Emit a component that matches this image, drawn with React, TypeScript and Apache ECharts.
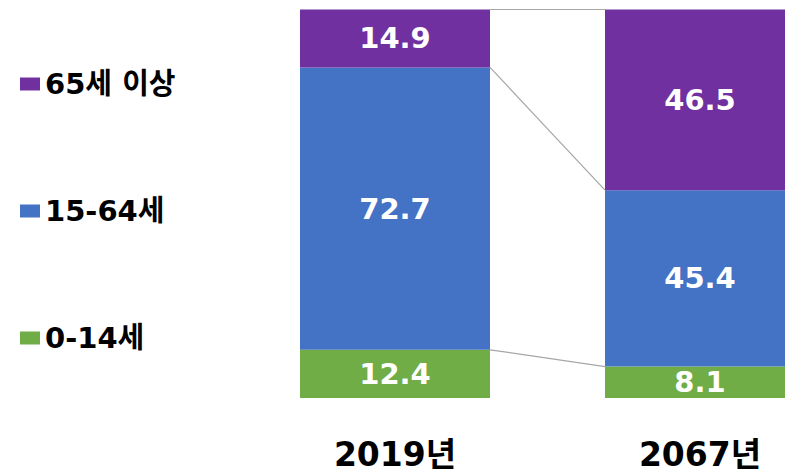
import React, { useEffect, useRef } from "react";
import * as echarts from "echarts";

const categories = ["2019년", "2067년"];
const age0to14 = [12.4, 8.1];
const age15to64 = [72.7, 45.4];
const age65plus = [14.9, 46.5];
const legendNames = ["65세 이상", "15-64세", "0-14세"];

const FONT = "'DejaVu Sans', 'Noto Sans CJK KR', sans-serif";
const BAR_RATIO = 0.623;

export default function App() {
  const ref = useRef<HTMLDivElement>(null);
  useEffect(() => {
    if (!ref.current) return;
    const chart = echarts.init(ref.current, undefined, { renderer: "svg" });
    const lvl1 = age0to14;
    const lvl2 = age0to14.map((v, i) => v + age15to64[i]);
    const lvl3 = lvl2.map((v, i) => v + age65plus[i]);
    const connectors = [
      [0, lvl1[0], lvl1[1]],
      [0, lvl2[0], lvl2[1]],
      [0, lvl3[0], lvl3[1]],
    ];
    const barLabel = {
      show: true,
      position: "inside",
      color: "#ffffff",
      fontSize: 29,
      fontWeight: "bold",
      fontFamily: FONT,
      formatter: (p: any) => Number(p.value).toFixed(1),
    };
    const mk = (name: string, data: number[], color: string) => ({
      name,
      type: "bar",
      stack: "total",
      data,
      barWidth: BAR_RATIO * 100 + "%",
      itemStyle: { color },
      label: barLabel,
    });
    chart.setOption({
      animation: false,
      grid: {
        left: 242.5,
        width: 610,
        top: 9.5,
        bottom: 77,
        containLabel: false,
        outerBoundsMode: "none",
      },
      legend: {
        orient: "vertical",
        left: 15,
        top: 64,
        data: legendNames,
        itemWidth: 20,
        itemHeight: 13,
        itemGap: 97,
        icon: "rect",
        textStyle: {
          fontSize: 29,
          fontWeight: "bold",
          color: "#000000",
          fontFamily: FONT,
          lineHeight: 30,
        },
      },
      xAxis: {
        type: "category",
        data: categories,
        axisLine: { show: false },
        axisTick: { show: false },
        axisLabel: {
          margin: 40,
          fontSize: 33,
          fontWeight: "bold",
          color: "#000000",
          fontFamily: FONT,
        },
      },
      yAxis: {
        type: "value",
        min: 0,
        max: 100,
        show: false,
        splitLine: { show: false },
      },
      series: [
        mk("0-14세", age0to14, "#70AD47"),
        mk("15-64세", age15to64, "#4472C4"),
        mk("65세 이상", age65plus, "#7030A0"),
        {
          type: "custom",
          name: "connectors",
          silent: true,
          clip: false,
          z: 1,
          encode: { x: 0, y: 1 },
          data: connectors,
          renderItem: (params: any, api: any) => {
            const a = api.coord([0, api.value(1)]);
            const b = api.coord([1, api.value(2)]);
            const hw = (api.size([1, 0])[0] * BAR_RATIO) / 2;
            return {
              type: "line",
              shape: { x1: a[0] + hw, y1: a[1], x2: b[0] - hw, y2: b[1] },
              style: { stroke: "#A6A6A6", lineWidth: 1.2 },
            };
          },
        },
      ],
    });
    return () => chart.dispose();
  }, []);
  return (
    <div
      ref={ref}
      style={{ position: "fixed", left: 0, top: 0, width: 785, height: 475, background: "#fff" }}
    />
  );
}
